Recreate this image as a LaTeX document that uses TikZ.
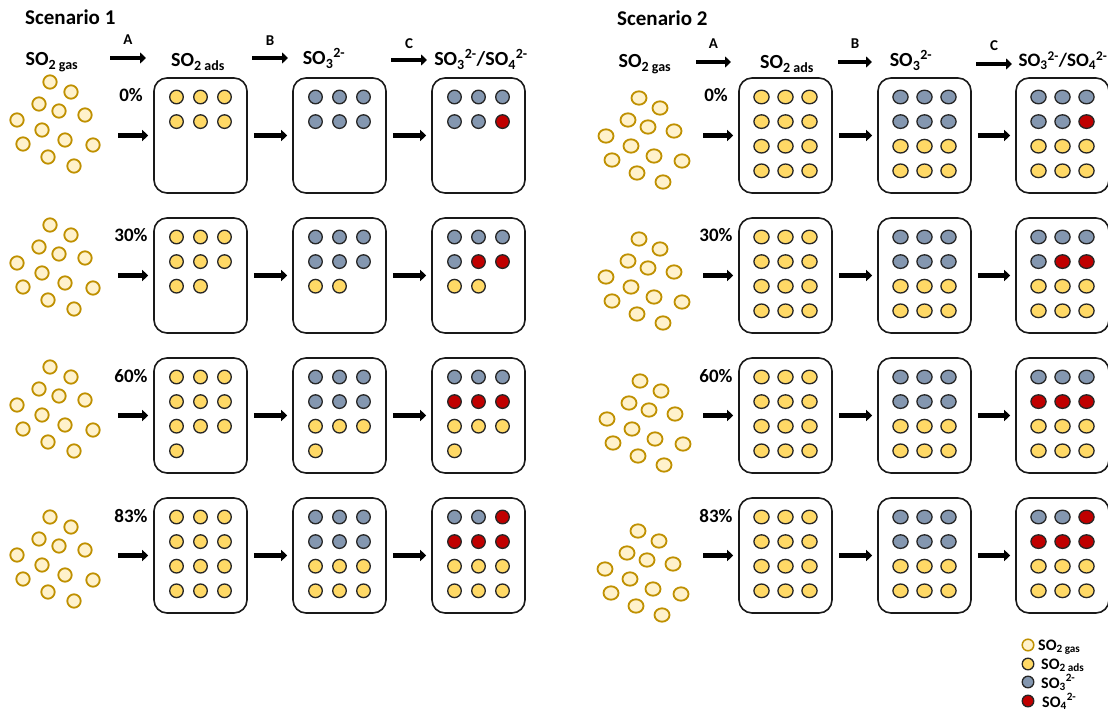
\documentclass[tikz,border=0pt]{standalone}
\usepackage{fontspec}
\setmainfont{Carlito}
\usetikzlibrary{arrows.meta, positioning, calc}
\definecolor{GasGold}{RGB}{191,144,0}
\definecolor{GasFill}{RGB}{255,242,204}
\definecolor{AdsYellow}{RGB}{255,217,102}
\definecolor{SulfiteBlue}{RGB}{132,151,176}
\definecolor{SulfateRed}{RGB}{192,0,0}

\newcommand{\sotwo}[1]{SO\textsubscript{2 #1}}
\newcommand{\sothree}{SO\textsubscript{3}\textsuperscript{2-}}
\newcommand{\sofour}{SO\textsubscript{4}\textsuperscript{2-}}

% gas cloud: first circle x, y, x radius
\newcommand{\gascloud}[3]{%
  \foreach \dx/\dy in {0/0, 21/10, -11/22, 9/29, 35/33, -33/38, -8/48, 15/58, 43/63, -27/62, -2/75, 24/84}
    \draw[gasdot] (#1+\dx, #2+\dy) ellipse[x radius=#3, y radius=6.7];
}
% box with dots: name, left x, top y, x radius, rows
\newcommand{\molbox}[5]{%
  \node[cellbox] (#1) at (#2+46.5, #3+57.5) {};
  \foreach \rowlist [count=\j] in {#5}
    \foreach \kind [count=\i] in \rowlist
      \draw[\kind] (#2+46.5+24*\i-48, #3+19+24.6*\j-24.6) ellipse[x radius=#4, y radius=6.8];
}

\begin{document}
\begin{tikzpicture}[x=1pt, y=-1pt, font=\bfseries,
    cellbox/.style={draw=black!90, line width=1.6pt, rounded corners=13pt, minimum width=93pt, minimum height=115pt, inner sep=0pt},
    flowarrow/.style={line width=4.5pt, -{Triangle[length=6pt,width=11pt]}},
    rowarrow/.style={flowarrow, shorten <=6pt, shorten >=5pt},
    gasdot/.style={draw=GasGold, fill=GasFill, line width=1.8pt},
    ads/.style={draw=black!85, fill=AdsYellow, line width=1.3pt},
    so3/.style={draw=black!85, fill=SulfiteBlue, line width=1.3pt},
    so4/.style={draw=black!85, fill=SulfateRed, line width=1.3pt},
    ttl/.style={anchor=base west, inner sep=0pt, font=\bfseries\fontsize{21}{25}\selectfont},
    hdr/.style={anchor=base, inner sep=0pt, font=\bfseries\fontsize{20}{24}\selectfont},
    pct/.style={anchor=base, inner sep=0pt, font=\bfseries\fontsize{19}{22}\selectfont},
    arrlbl/.style={inner sep=0pt, font=\bfseries\fontsize{15}{18}\selectfont},
    lgd/.style={anchor=base west, inner sep=0pt, font=\bfseries\fontsize{16}{19}\selectfont}]
    \useasboundingbox[fill=white] (0,0) rectangle (1108,727);

    % --- Scenario 1 header ---
    \node[ttl] (s1title) at (25,25) {Scenario 1};
    \node[hdr] (s1h0) at (52,66) {\sotwo{gas}};
    \node[hdr] (s1h1) at (198,67) {\sotwo{ads}};
    \node[hdr] (s1h2) at (324,65) {\sothree};
    \node[hdr] (s1h3) at (481,66) {\sothree/\sofour};
    \coordinate (s1A0) at (110,58); \coordinate (s1A1) at (146,58);
    \coordinate (s1B0) at (252,58); \coordinate (s1B1) at (288,58);
    \coordinate (s1C0) at (391,60); \coordinate (s1C1) at (427,60);
    \draw[flowarrow] (s1A0) -- (s1A1) node[arrlbl, midway, above=11pt] (s1lA) {A};
    \draw[flowarrow] (s1B0) -- (s1B1) node[arrlbl, midway, above=10pt] (s1lB) {B};
    \draw[flowarrow] (s1C0) -- (s1C1) node[arrlbl, midway, above=9pt] (s1lC) {C};

    % --- Scenario 1, 0% ---
    \gascloud{50}{82}{6.7}
    \node[pct] (s1p1) at (131,102) {0\%};
    \coordinate (s1g1) at (112,135.5);
    \molbox{s1a1}{154}{78}{6.8}{{ads,ads,ads},{ads,ads,ads}}
    \molbox{s1b1}{293}{78}{6.8}{{so3,so3,so3},{so3,so3,so3}}
    \molbox{s1c1}{432}{78}{6.8}{{so3,so3,so3},{so3,so3,so4}}
    \draw[rowarrow] (s1g1) -- (s1a1);
    \draw[rowarrow] (s1a1) -- (s1b1);
    \draw[rowarrow] (s1b1) -- (s1c1);

    % --- Scenario 1, 30% ---
    \gascloud{50}{225}{6.7}
    \node[pct] (s1p2) at (131,242) {30\%};
    \coordinate (s1g2) at (112,275.5);
    \molbox{s1a2}{154}{218}{6.8}{{ads,ads,ads},{ads,ads,ads},{ads,ads}}
    \molbox{s1b2}{293}{218}{6.8}{{so3,so3,so3},{so3,so3,so3},{ads,ads}}
    \molbox{s1c2}{432}{218}{6.8}{{so3,so3,so3},{so3,so4,so4},{ads,ads}}
    \draw[rowarrow] (s1g2) -- (s1a2);
    \draw[rowarrow] (s1a2) -- (s1b2);
    \draw[rowarrow] (s1b2) -- (s1c2);

    % --- Scenario 1, 60% ---
    \gascloud{50}{367}{6.7}
    \node[pct] (s1p3) at (131,382) {60\%};
    \coordinate (s1g3) at (112,415.5);
    \molbox{s1a3}{154}{358}{6.8}{{ads,ads,ads},{ads,ads,ads},{ads,ads,ads},{ads}}
    \molbox{s1b3}{293}{358}{6.8}{{so3,so3,so3},{so3,so3,so3},{ads,ads,ads},{ads}}
    \molbox{s1c3}{432}{358}{6.8}{{so3,so3,so3},{so4,so4,so4},{ads,ads,ads},{ads}}
    \draw[rowarrow] (s1g3) -- (s1a3);
    \draw[rowarrow] (s1a3) -- (s1b3);
    \draw[rowarrow] (s1b3) -- (s1c3);

    % --- Scenario 1, 83% ---
    \gascloud{50}{517}{6.7}
    \node[pct] (s1p4) at (131,522) {83\%};
    \coordinate (s1g4) at (112,555.5);
    \molbox{s1a4}{154}{498}{6.8}{{ads,ads,ads},{ads,ads,ads},{ads,ads,ads},{ads,ads,ads}}
    \molbox{s1b4}{293}{498}{6.8}{{so3,so3,so3},{so3,so3,so3},{ads,ads,ads},{ads,ads,ads}}
    \molbox{s1c4}{432}{498}{6.8}{{so3,so3,so4},{so4,so4,so4},{ads,ads,ads},{ads,ads,ads}}
    \draw[rowarrow] (s1g4) -- (s1a4);
    \draw[rowarrow] (s1a4) -- (s1b4);
    \draw[rowarrow] (s1b4) -- (s1c4);

    % --- Scenario 2 header ---
    \node[ttl] (s2title) at (617,26) {Scenario 2};
    \node[hdr] (s2h0) at (645,68) {\sotwo{gas}};
    \node[hdr] (s2h1) at (787,69) {\sotwo{ads}};
    \node[hdr] (s2h2) at (911,67) {\sothree};
    \node[hdr, font=\bfseries\fontsize{19}{23}\selectfont] (s2h3) at (1063,67) {\sothree/\sofour};
    \coordinate (s2A0) at (696,62); \coordinate (s2A1) at (731,62);
    \coordinate (s2B0) at (838,62); \coordinate (s2B1) at (872,62);
    \coordinate (s2C0) at (976,64); \coordinate (s2C1) at (1012,64);
    \draw[flowarrow] (s2A0) -- (s2A1) node[arrlbl, midway, above=11pt] (s2lA) {A};
    \draw[flowarrow] (s2B0) -- (s2B1) node[arrlbl, midway, above=11pt] (s2lB) {B};
    \draw[flowarrow] (s2C0) -- (s2C1) node[arrlbl, midway, above=11pt] (s2lC) {C};

    % --- Scenario 2, rows ---
    \gascloud{639}{98}{7.5}
    \node[pct] (s2p1) at (716,102) {0\%};
    \coordinate (s2g1) at (697,135.5);
    \molbox{s2a1}{739}{78}{7.6}{{ads,ads,ads},{ads,ads,ads},{ads,ads,ads},{ads,ads,ads}}
    \molbox{s2b1}{878}{78}{7.6}{{so3,so3,so3},{so3,so3,so3},{ads,ads,ads},{ads,ads,ads}}
    \molbox{s2c1}{1016}{78}{7.6}{{so3,so3,so3},{so3,so3,so4},{ads,ads,ads},{ads,ads,ads}}
    \draw[rowarrow] (s2g1) -- (s2a1);
    \draw[rowarrow] (s2a1) -- (s2b1);
    \draw[rowarrow] (s2b1) -- (s2c1);

    \gascloud{639}{239}{7.5}
    \node[pct] (s2p2) at (716,242) {30\%};
    \coordinate (s2g2) at (697,275.5);
    \molbox{s2a2}{739}{218}{7.6}{{ads,ads,ads},{ads,ads,ads},{ads,ads,ads},{ads,ads,ads}}
    \molbox{s2b2}{878}{218}{7.6}{{so3,so3,so3},{so3,so3,so3},{ads,ads,ads},{ads,ads,ads}}
    \molbox{s2c2}{1016}{218}{7.6}{{so3,so3,so3},{so3,so4,so4},{ads,ads,ads},{ads,ads,ads}}
    \draw[rowarrow] (s2g2) -- (s2a2);
    \draw[rowarrow] (s2a2) -- (s2b2);
    \draw[rowarrow] (s2b2) -- (s2c2);

    \gascloud{640}{381}{7.5}
    \node[pct] (s2p3) at (716,382) {60\%};
    \coordinate (s2g3) at (697,415.5);
    \molbox{s2a3}{739}{358}{7.6}{{ads,ads,ads},{ads,ads,ads},{ads,ads,ads},{ads,ads,ads}}
    \molbox{s2b3}{878}{358}{7.6}{{so3,so3,so3},{so3,so3,so3},{ads,ads,ads},{ads,ads,ads}}
    \molbox{s2c3}{1016}{358}{7.6}{{so3,so3,so3},{so4,so4,so4},{ads,ads,ads},{ads,ads,ads}}
    \draw[rowarrow] (s2g3) -- (s2a3);
    \draw[rowarrow] (s2a3) -- (s2b3);
    \draw[rowarrow] (s2b3) -- (s2c3);

    \gascloud{638}{531}{7.5}
    \node[pct] (s2p4) at (716,522) {83\%};
    \coordinate (s2g4) at (697,555.5);
    \molbox{s2a4}{739}{498}{7.6}{{ads,ads,ads},{ads,ads,ads},{ads,ads,ads},{ads,ads,ads}}
    \molbox{s2b4}{878}{498}{7.6}{{so3,so3,so3},{so3,so3,so3},{ads,ads,ads},{ads,ads,ads}}
    \molbox{s2c4}{1016}{498}{7.6}{{so3,so3,so4},{so4,so4,so4},{ads,ads,ads},{ads,ads,ads}}
    \draw[rowarrow] (s2g4) -- (s2a4);
    \draw[rowarrow] (s2a4) -- (s2b4);
    \draw[rowarrow] (s2b4) -- (s2c4);

    % --- Legend ---
    \draw[gasdot, line width=1.5pt] (1028,645) circle[radius=5.8];
    \draw[ads] (1028,664) circle[radius=5.8];
    \draw[so3] (1028,682) circle[radius=5.8];
    \draw[so4] (1028,701) circle[radius=5.8];
    \node[lgd] (lg1) at (1038,650) {\sotwo{gas}};
    \node[lgd] (lg2) at (1041,669) {\sotwo{ads}};
    \node[lgd] (lg3) at (1041,688) {\sothree};
    \node[lgd] (lg4) at (1042,707) {\sofour};
\end{tikzpicture}
\end{document}
